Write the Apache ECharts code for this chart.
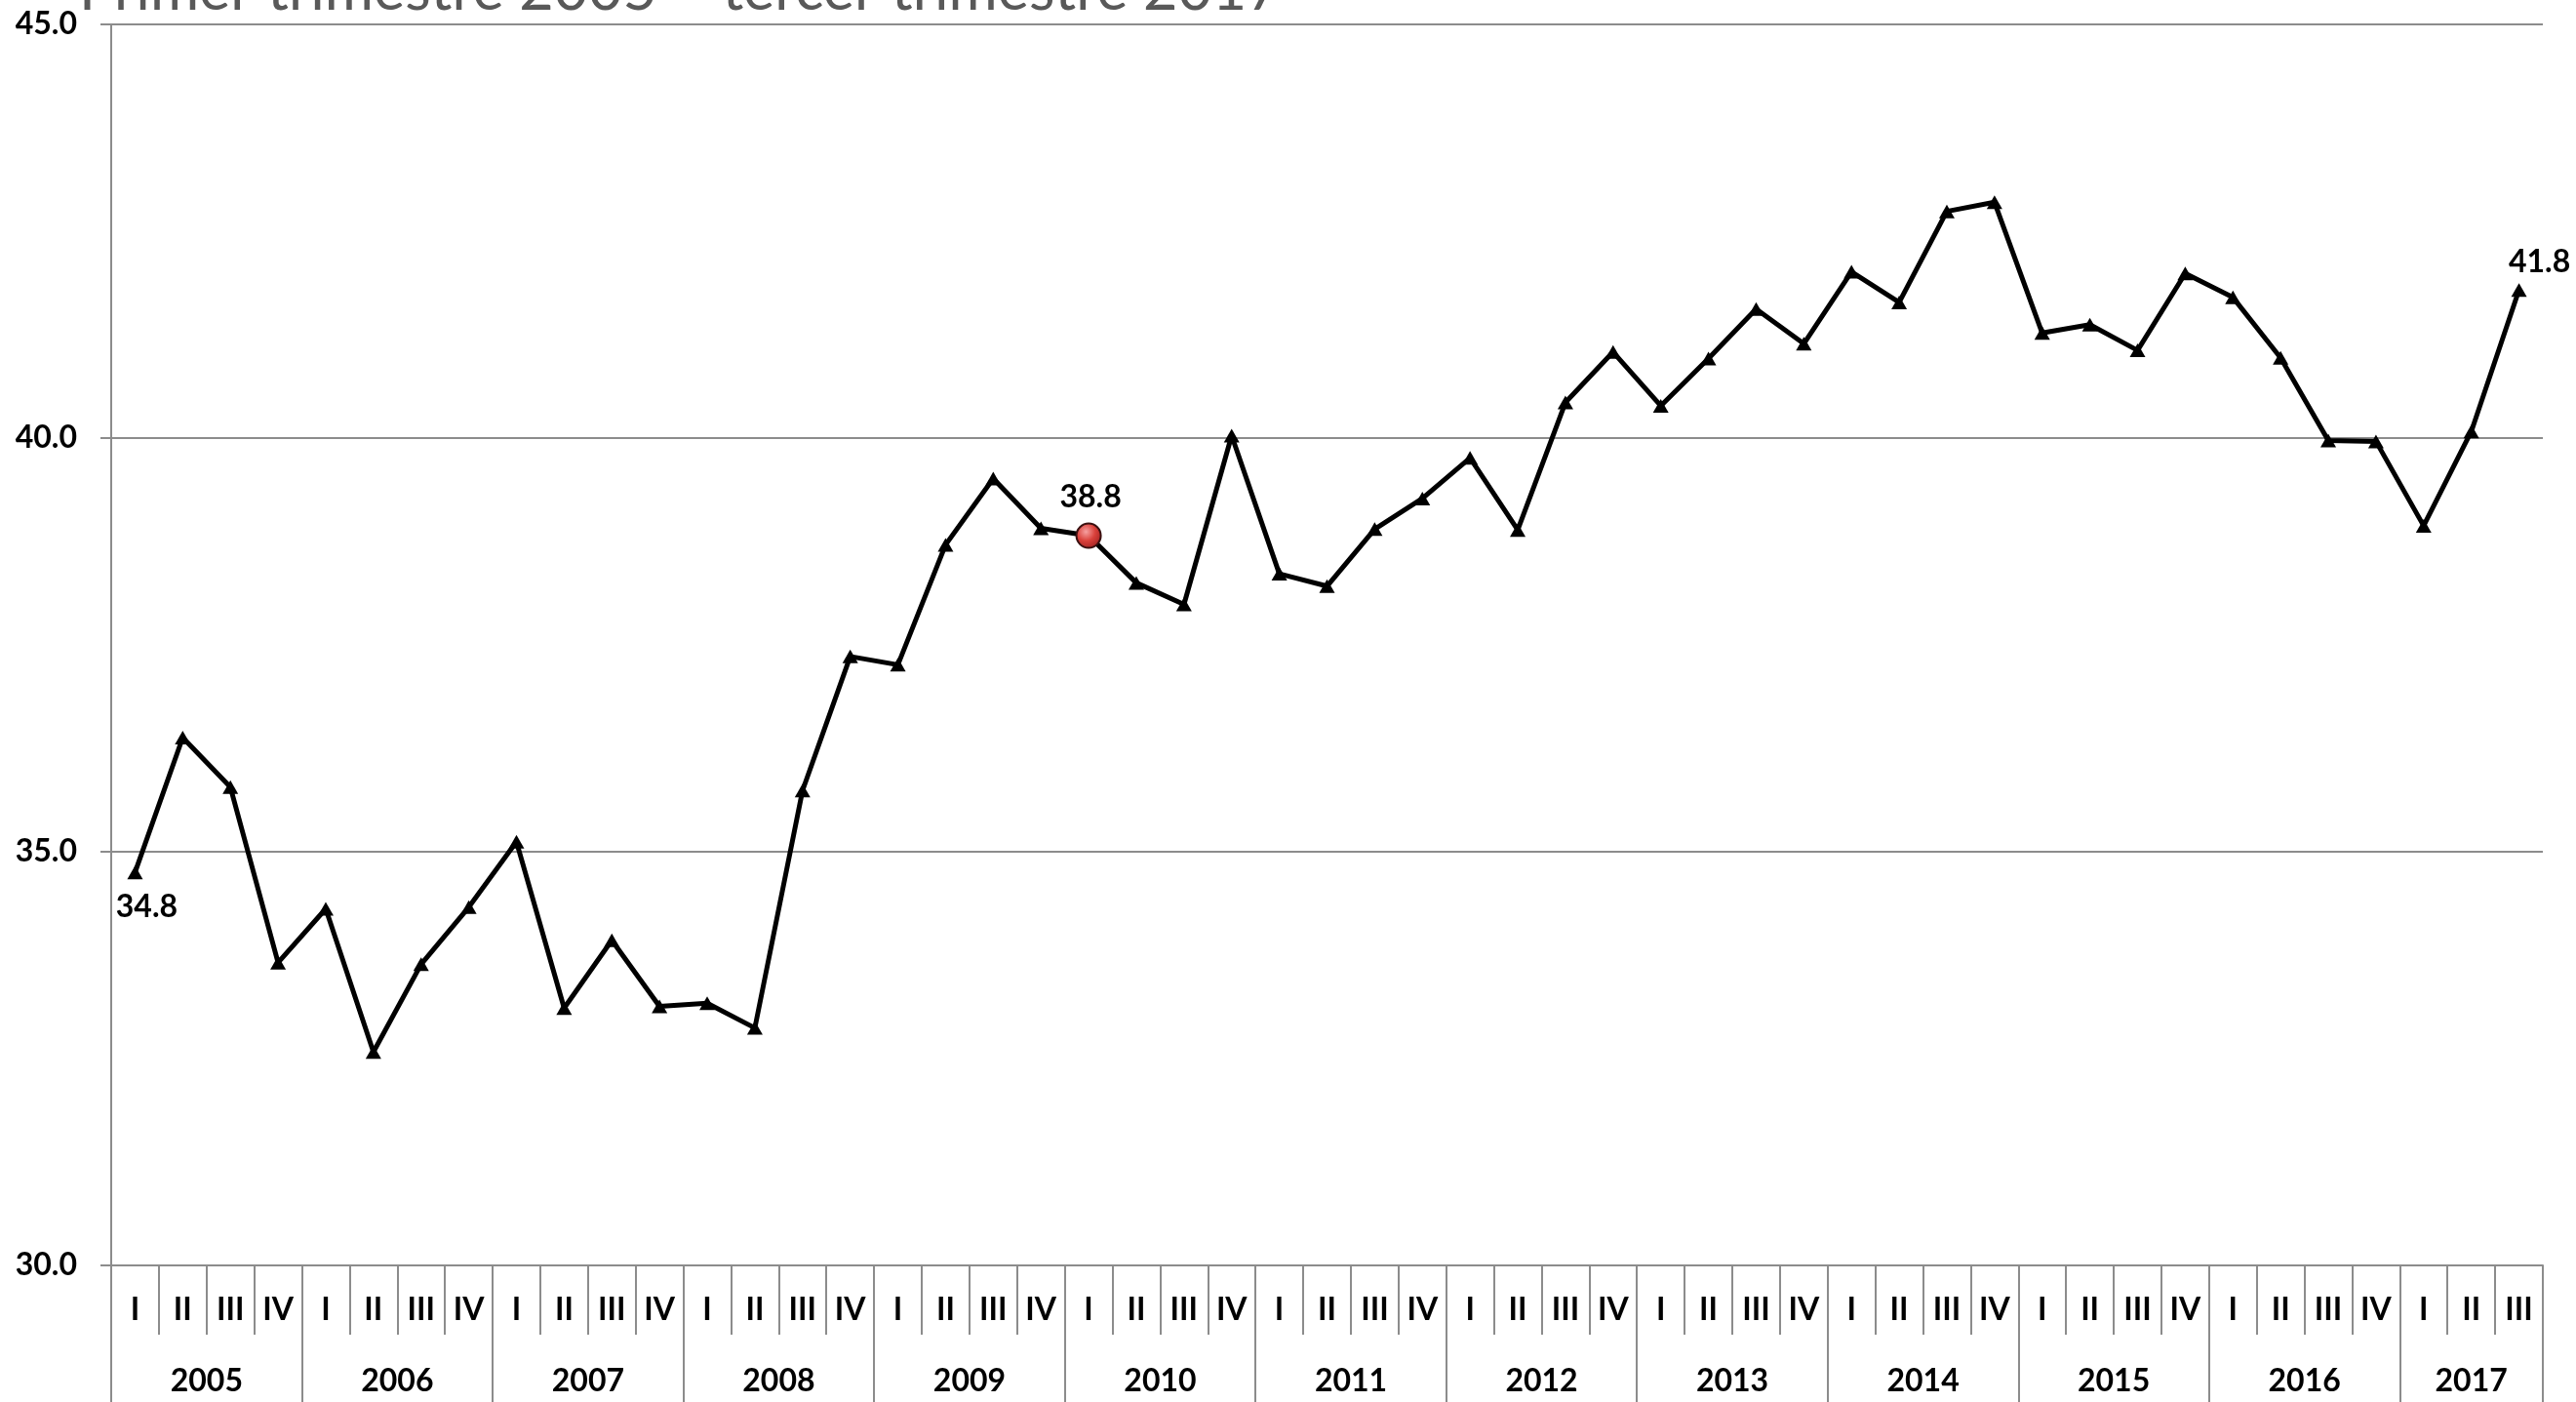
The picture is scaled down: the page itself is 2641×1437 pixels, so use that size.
<!DOCTYPE html>
<html>
<head>
<meta charset="utf-8">
<script src="https://cdn.jsdelivr.net/npm/echarts@6/dist/echarts.min.js"></script>
<style>
html,body{margin:0;padding:0;background:#fff;}
#c{width:2641px;height:1437px;}
</style>
</head>
<body>
<div id="c"></div>
<script>
const titleText = 'Primer trimestre 2005 – tercer trimestre 2017';
const years = ['2005','2006','2007','2008','2009','2010','2011','2012','2013','2014','2015','2016','2017'];
const quarterNames = ['I','II','III','IV'];
const categories = [
  '2005-I','2005-II','2005-III','2005-IV',
  '2006-I','2006-II','2006-III','2006-IV',
  '2007-I','2007-II','2007-III','2007-IV',
  '2008-I','2008-II','2008-III','2008-IV',
  '2009-I','2009-II','2009-III','2009-IV',
  '2010-I','2010-II','2010-III','2010-IV',
  '2011-I','2011-II','2011-III','2011-IV',
  '2012-I','2012-II','2012-III','2012-IV',
  '2013-I','2013-II','2013-III','2013-IV',
  '2014-I','2014-II','2014-III','2014-IV',
  '2015-I','2015-II','2015-III','2015-IV',
  '2016-I','2016-II','2016-III','2016-IV',
  '2017-I','2017-II','2017-III'
];
const values = [
  34.75, 36.38, 35.78, 33.66,
  34.31, 32.58, 33.64, 34.33,
  35.12, 33.11, 33.93, 33.13,
  33.17, 32.87, 35.74, 37.36,
  37.26, 38.71, 39.51, 38.91,
  38.82, 38.25, 37.99, 40.03,
  38.36, 38.21, 38.90, 39.27,
  39.76, 38.89, 40.43, 41.04,
  40.39, 40.96, 41.56, 41.14,
  42.01, 41.64, 42.74, 42.85,
  41.27, 41.37, 41.06, 41.99,
  41.70, 40.97, 39.97, 39.96,
  38.94, 40.08, 41.79
];
const yTicks = [30, 35, 40, 45];
const labelledIdx = [0, 20, 50];
const highlightIdx = 20;

const FONT = 'Lato';
const GRAY = '#8c8c8c';

const seriesData = values.map(function (v, i) {
  const item = { value: v };
  if (i === highlightIdx) {
    item.symbol = 'circle';
    item.symbolSize = 25;
    item.itemStyle = {
      color: { type: 'radial', x: 0.4, y: 0.35, r: 0.7,
        colorStops: [{ offset: 0, color: '#f6a0a0' }, { offset: 0.5, color: '#d9403a' }, { offset: 1, color: '#9e2020' }] },
      borderColor: '#3a1010', borderWidth: 2
    };
  }
  if (labelledIdx.indexOf(i) >= 0) {
    const lab = { show: true, formatter: function (p) { return p.value.toFixed(1); },
      fontFamily: FONT, fontWeight: 'bold', fontSize: 32, color: '#000' };
    if (i === 0) { lab.position = 'bottom'; lab.distance = 12; lab.offset = [12, 0]; }
    else if (i === highlightIdx) { lab.position = 'top'; lab.distance = 10; lab.offset = [2, 0]; }
    else { lab.position = 'top'; lab.distance = 6; lab.offset = [21, 0]; }
    item.label = lab;
  }
  return item;
});

const chart = echarts.init(document.getElementById('c'), null, { renderer: 'canvas' });
chart.setOption({
  animation: false,
  backgroundColor: '#ffffff',
  title: {
    text: titleText,
    left: 81,
    top: -40,
    padding: 0,
    textStyle: { fontFamily: FONT, fontWeight: 'normal', fontSize: 61, color: '#595959' }
  },
  grid: { left: 114, right: 34, top: 25, bottom: 140, containLabel: false },
  xAxis: [
    {
      type: 'category',
      data: categories,
      position: 'bottom',
      boundaryGap: true,
      axisLine: { show: true, lineStyle: { color: GRAY, width: 2 } },
      axisTick: { show: true, interval: 0, length: 71, lineStyle: { color: GRAY, width: 2 } },
      axisLabel: {
        interval: 0, margin: 30,
        fontFamily: FONT, fontWeight: 'bold', fontSize: 32, color: '#000',
        formatter: function (v) { return v.split('-')[1]; }
      },
      splitLine: { show: false }
    },
    {
      type: 'category',
      data: categories,
      position: 'bottom',
      boundaryGap: true,
      axisLine: { show: false },
      axisTick: {
        show: true, length: 140, lineStyle: { color: GRAY, width: 2 },
        interval: function (idx) { return idx % 4 === 0; }
      },
      axisLabel: {
        margin: 103,
        interval: function (idx) { return idx % 4 === 1; },
        formatter: function (v) {
          const parts = v.split('-');
          const y = parts[0];
          const n = categories.filter(function (c) { return c.indexOf(y + '-') === 0; }).length;
          return n === 4 ? '{s|' + y + '}' : '{c|' + y + '}';
        },
        rich: {
          s: { fontFamily: FONT, fontWeight: 'bold', fontSize: 32, color: '#000', padding: [0, 0, 0, 49] },
          c: { fontFamily: FONT, fontWeight: 'bold', fontSize: 32, color: '#000' }
        }
      },
      splitLine: { show: false }
    }
  ],
  yAxis: {
    type: 'value',
    min: yTicks[0],
    max: yTicks[yTicks.length - 1],
    interval: 5,
    axisLine: { show: true, lineStyle: { color: GRAY, width: 2 } },
    axisTick: { show: true, length: 11, lineStyle: { color: GRAY, width: 2 } },
    axisLabel: {
      margin: 35,
      fontFamily: FONT, fontWeight: 'bold', fontSize: 32, color: '#000',
      formatter: function (v) { return v.toFixed(1); }
    },
    splitLine: { show: true, lineStyle: { color: GRAY, width: 2 } }
  },
  series: [{
    type: 'line',
    xAxisIndex: 0,
    yAxisIndex: 0,
    data: seriesData,
    symbol: 'triangle',
    symbolSize: [16, 14],
    showAllSymbol: true,
    lineStyle: { color: '#000', width: 5 },
    itemStyle: { color: '#000' },
    z: 5
  }]
});
</script>
</body>
</html>
